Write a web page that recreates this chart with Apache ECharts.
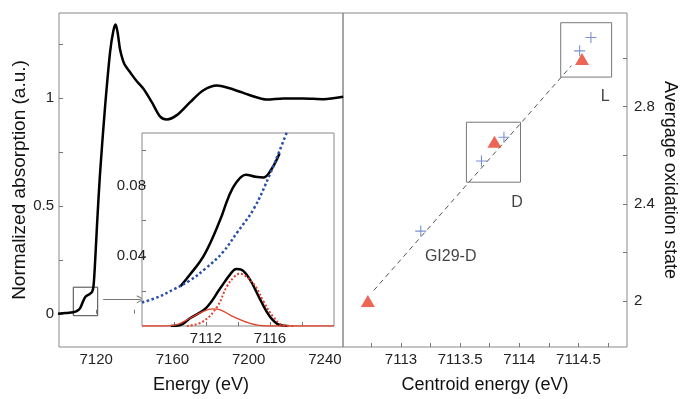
<!DOCTYPE html>
<html>
<head>
<meta charset="utf-8">
<script src="https://cdn.jsdelivr.net/npm/echarts@6/dist/echarts.min.js"></script>
<style>
  html, body { margin: 0; padding: 0; background: #fff; }
  #main { width: 680px; height: 399px; }
</style>
</head>
<body>
<div id="main"></div>
<script>
// XANES spectrum (left panel)
const mainE = [7100, 7104, 7108, 7110, 7111.6, 7113, 7114.3, 7116, 7117.8, 7118.6, 7119.5, 7120.5, 7122, 7124.6, 7127.3, 7129, 7130.2, 7131.3, 7132.5, 7134, 7135.2, 7137.8, 7141, 7144.8, 7149.2, 7153.6, 7157.1, 7162.3, 7169.3, 7176.3, 7183.3, 7192, 7200.7, 7209.5, 7218.2, 7228.7, 7239.2, 7249.6];
const mainMu = [0.0, 0.003, 0.007, 0.013, 0.026, 0.055, 0.078, 0.088, 0.1, 0.128, 0.25, 0.42, 0.646, 0.951, 1.212, 1.31, 1.34, 1.3, 1.225, 1.175, 1.15, 1.119, 1.08, 1.042, 0.98, 0.913, 0.9, 0.92, 0.98, 1.035, 1.057, 1.039, 1.012, 0.992, 0.997, 0.997, 0.994, 1.005];
const boxE = [7108, 7120.8];
const boxMu = [-0.009, 0.123];
const arrowE = [7123.7, 7143.4];
const arrowMu = 0.067;

// pre-edge inset
const bgE = [7108, 7109, 7110, 7111, 7112, 7113, 7114, 7115, 7116, 7116.6, 7117.1];
const bgMu = [0.0134, 0.0165, 0.021, 0.026, 0.033, 0.0415, 0.054, 0.067, 0.0866, 0.1, 0.1115];
const totE = [7110.4, 7111, 7111.9, 7112.9, 7113.4, 7113.9, 7114.5, 7115.1, 7115.6, 7116.1, 7116.6];
const totMu = [0.0226, 0.0293, 0.0407, 0.0608, 0.0733, 0.0819, 0.0862, 0.0851, 0.0847, 0.0895, 0.0985];
const fitE = [7109.8, 7110.4, 7111, 7112, 7112.9, 7113.5, 7113.9, 7114.2, 7114.75, 7115.4, 7116, 7116.6, 7117.1];
const fitMu = [0, 0.0006, 0.0044, 0.0102, 0.0216, 0.0293, 0.0325, 0.0321, 0.0264, 0.0149, 0.0053, 0.0006, 0];
const pk1E = [7108, 7109.5, 7110.2, 7111, 7111.8, 7112.4, 7112.9, 7113.7, 7114.75, 7115.8, 7120];
const pk1Mu = [0, 0, 0.0008, 0.0044, 0.0082, 0.0098, 0.0092, 0.0053, 0.0015, 0, 0];
const pk2E = [7110.8, 7111.8, 7112.7, 7113.3, 7113.8, 7114.1, 7114.5, 7115.1, 7115.6, 7116.2, 7116.8, 7117.5];
const pk2Mu = [0, 0.0025, 0.011, 0.0225, 0.0283, 0.0298, 0.0283, 0.0225, 0.0139, 0.0053, 0.0006, 0];

// centroid vs oxidation state (right panel)
const triE = [7112.72, 7113.79, 7114.53];
const triOx = [2.0, 2.656, 2.996];
const crossE = [7113.167, 7113.68, 7113.87, 7114.51, 7114.605];
const crossOx = [2.2875, 2.576, 2.674, 3.03, 3.085];
const fitLineE = [7112.77, 7114.44];
const fitLineOx = [2.043, 2.969];
const groupBoxes = [
  [[7113.553, 2.489], [7114.01, 2.736]],
  [[7114.35, 2.922], [7114.78, 3.146]]
];
const sampleNames = ['L', 'D', 'GI29-D'];
const sampleE = [7114.725, 7113.98, 7113.42];
const sampleOx = [2.84, 2.406, 2.183];

const font = 'Liberation Sans, Arial, Helvetica, sans-serif';
const pairs = (xs, ys) => xs.map((x, i) => [x, ys[i]]);
const plain = v => String(v);

const tickStyle = { inside: true, length: 4, lineStyle: { color: '#777', width: 1 } };
const labelStyle = { fontSize: 15, color: '#222', fontFamily: font, formatter: plain };
const nameStyle = { fontSize: 18, color: '#111', fontFamily: font };

const chart = echarts.init(document.getElementById('main'));

const option = {
  animation: false,
  backgroundColor: '#fff',
  grid: [
    { left: 59, top: 13, width: 284, height: 339, show: true, borderColor: '#888', borderWidth: 1, backgroundColor: 'transparent' },
    { left: 142, top: 133, width: 192, height: 193, show: true, borderColor: '#888', borderWidth: 1, backgroundColor: '#fff', z: 10 },
    { left: 343, top: 13, width: 286, height: 339, show: true, borderColor: '#888', borderWidth: 1, backgroundColor: 'transparent' }
  ],
  xAxis: [
    {
      gridIndex: 0, type: 'value', min: 7100.5, max: 7249.5,
      axisLine: { show: false }, splitLine: { show: false },
      axisTick: Object.assign({ customValues: [7120, 7140, 7160, 7180, 7200, 7220, 7240] }, tickStyle),
      axisLabel: Object.assign({ customValues: [7120, 7160, 7200, 7240], margin: 5 }, labelStyle),
      name: 'Energy (eV)', nameLocation: 'middle', nameGap: 29, nameTextStyle: nameStyle
    },
    {
      gridIndex: 1, type: 'value', min: 7108, max: 7120, z: 11,
      axisLine: { show: false }, splitLine: { show: false },
      axisTick: Object.assign({ customValues: [7110, 7112, 7114, 7116, 7118] }, tickStyle),
      axisLabel: Object.assign({ customValues: [7112, 7116], margin: 5 }, labelStyle)
    },
    {
      gridIndex: 2, type: 'value', min: 7112.51, max: 7114.91,
      axisLine: { show: false }, splitLine: { show: false },
      axisTick: Object.assign({ customValues: [7112.75, 7113, 7113.25, 7113.5, 7113.75, 7114, 7114.25, 7114.5, 7114.75] }, tickStyle),
      axisLabel: Object.assign({ customValues: [7113, 7113.5, 7114, 7114.5], margin: 5 }, labelStyle),
      name: 'Centroid energy (eV)', nameLocation: 'middle', nameGap: 29, nameTextStyle: nameStyle
    }
  ],
  yAxis: [
    {
      gridIndex: 0, type: 'value', min: -0.154, max: 1.393,
      axisLine: { show: false }, splitLine: { show: false },
      axisTick: Object.assign({ customValues: [0, 0.25, 0.5, 0.75, 1, 1.25] }, tickStyle),
      axisLabel: Object.assign({ customValues: [0, 0.5, 1], margin: 5 }, labelStyle),
      name: 'Normalized absorption (a.u.)', nameLocation: 'middle', nameGap: 29, nameRotate: 90,
      nameTextStyle: Object.assign({}, nameStyle, { fontSize: 19 })
    },
    {
      gridIndex: 1, type: 'value', min: 0, max: 0.11, z: 11,
      axisLine: { show: false }, splitLine: { show: false },
      axisTick: Object.assign({ customValues: [0.02, 0.04, 0.06, 0.08, 0.1] }, tickStyle),
      axisLabel: Object.assign({ customValues: [0.04, 0.08], margin: -4 }, labelStyle)
    },
    {
      gridIndex: 2, type: 'value', position: 'right', min: 1.81, max: 3.186,
      axisLine: { show: false }, splitLine: { show: false },
      axisTick: Object.assign({ customValues: [2, 2.2, 2.4, 2.6, 2.8, 3] }, tickStyle),
      axisLabel: Object.assign({ customValues: [2, 2.4, 2.8], margin: 7 }, labelStyle),
      name: 'Avergage oxidation state', nameLocation: 'middle', nameGap: 34, nameRotate: -90,
      nameTextStyle: nameStyle
    }
  ],
  series: [
    {
      type: 'line', xAxisIndex: 0, yAxisIndex: 0, z: 2,
      data: pairs(mainE, mainMu), showSymbol: false, smooth: 0.3,
      lineStyle: { color: '#000', width: 2.5 },
      markArea: {
        silent: true,
        itemStyle: { color: 'transparent', borderColor: '#444', borderWidth: 1 },
        data: [[{ coord: [boxE[0], boxMu[0]] }, { coord: [boxE[1], boxMu[1]] }]]
      },
      markLine: {
        silent: true,
        symbol: ['none', 'path://M0,10 L5,0 L10,10 L8.6,10 L5,2.8 L1.4,10 Z'],
        symbolSize: [8, 8],
        label: { show: false },
        lineStyle: { color: '#777', width: 1, type: 'solid' },
        data: [[{ coord: [arrowE[0], arrowMu] }, { coord: [arrowE[1], arrowMu] }]]
      }
    },
    {
      type: 'line', xAxisIndex: 1, yAxisIndex: 1, z: 12,
      data: pairs(totE, totMu), showSymbol: false, smooth: 0.4,
      lineStyle: { color: '#000', width: 2.5 }
    },
    {
      type: 'line', xAxisIndex: 1, yAxisIndex: 1, z: 12,
      data: pairs(bgE, bgMu), showSymbol: false, smooth: 0.4,
      lineStyle: { color: '#2a4fa6', width: 2.5, type: 'dotted' }
    },
    {
      type: 'line', xAxisIndex: 1, yAxisIndex: 1, z: 12,
      data: pairs(fitE, fitMu), showSymbol: false, smooth: 0.4,
      lineStyle: { color: '#000', width: 2.5 }
    },
    {
      type: 'line', xAxisIndex: 1, yAxisIndex: 1, z: 13,
      data: pairs(pk1E, pk1Mu), showSymbol: false, smooth: 0.4,
      lineStyle: { color: '#e2432c', width: 1.3 }
    },
    {
      type: 'line', xAxisIndex: 1, yAxisIndex: 1, z: 13,
      data: pairs(pk2E, pk2Mu), showSymbol: false, smooth: 0.4,
      lineStyle: { color: '#e2432c', width: 2, type: 'dotted' }
    },
    {
      type: 'line', xAxisIndex: 2, yAxisIndex: 2, z: 2,
      data: pairs(fitLineE, fitLineOx), showSymbol: false,
      lineStyle: { color: '#555', width: 1, type: [5, 4] }
    },
    {
      type: 'scatter', xAxisIndex: 2, yAxisIndex: 2, z: 3,
      data: pairs(crossE, crossOx),
      symbol: 'path://M4.5,0 H5.5 V4.5 H10 V5.5 H5.5 V10 H4.5 V5.5 H0 V4.5 H4.5 Z',
      symbolSize: 11,
      itemStyle: { color: '#5676c8' },
      markArea: {
        silent: true,
        itemStyle: { color: 'transparent', borderColor: '#777', borderWidth: 1 },
        data: groupBoxes.map(b => [{ coord: b[0] }, { coord: b[1] }])
      }
    },
    {
      type: 'scatter', xAxisIndex: 2, yAxisIndex: 2, z: 4,
      data: pairs(triE, triOx),
      symbol: 'triangle', symbolSize: [14, 12],
      itemStyle: { color: '#e8402a' }
    },
    {
      type: 'scatter', xAxisIndex: 2, yAxisIndex: 2, z: 5,
      data: sampleNames.map((n, i) => ({ name: n, value: [sampleE[i], sampleOx[i]] })),
      symbolSize: 0,
      label: { show: true, position: 'inside', formatter: '{b}', fontSize: 16, color: '#111', fontFamily: font }
    }
  ]
};

chart.setOption(option);
</script>
</body>
</html>
